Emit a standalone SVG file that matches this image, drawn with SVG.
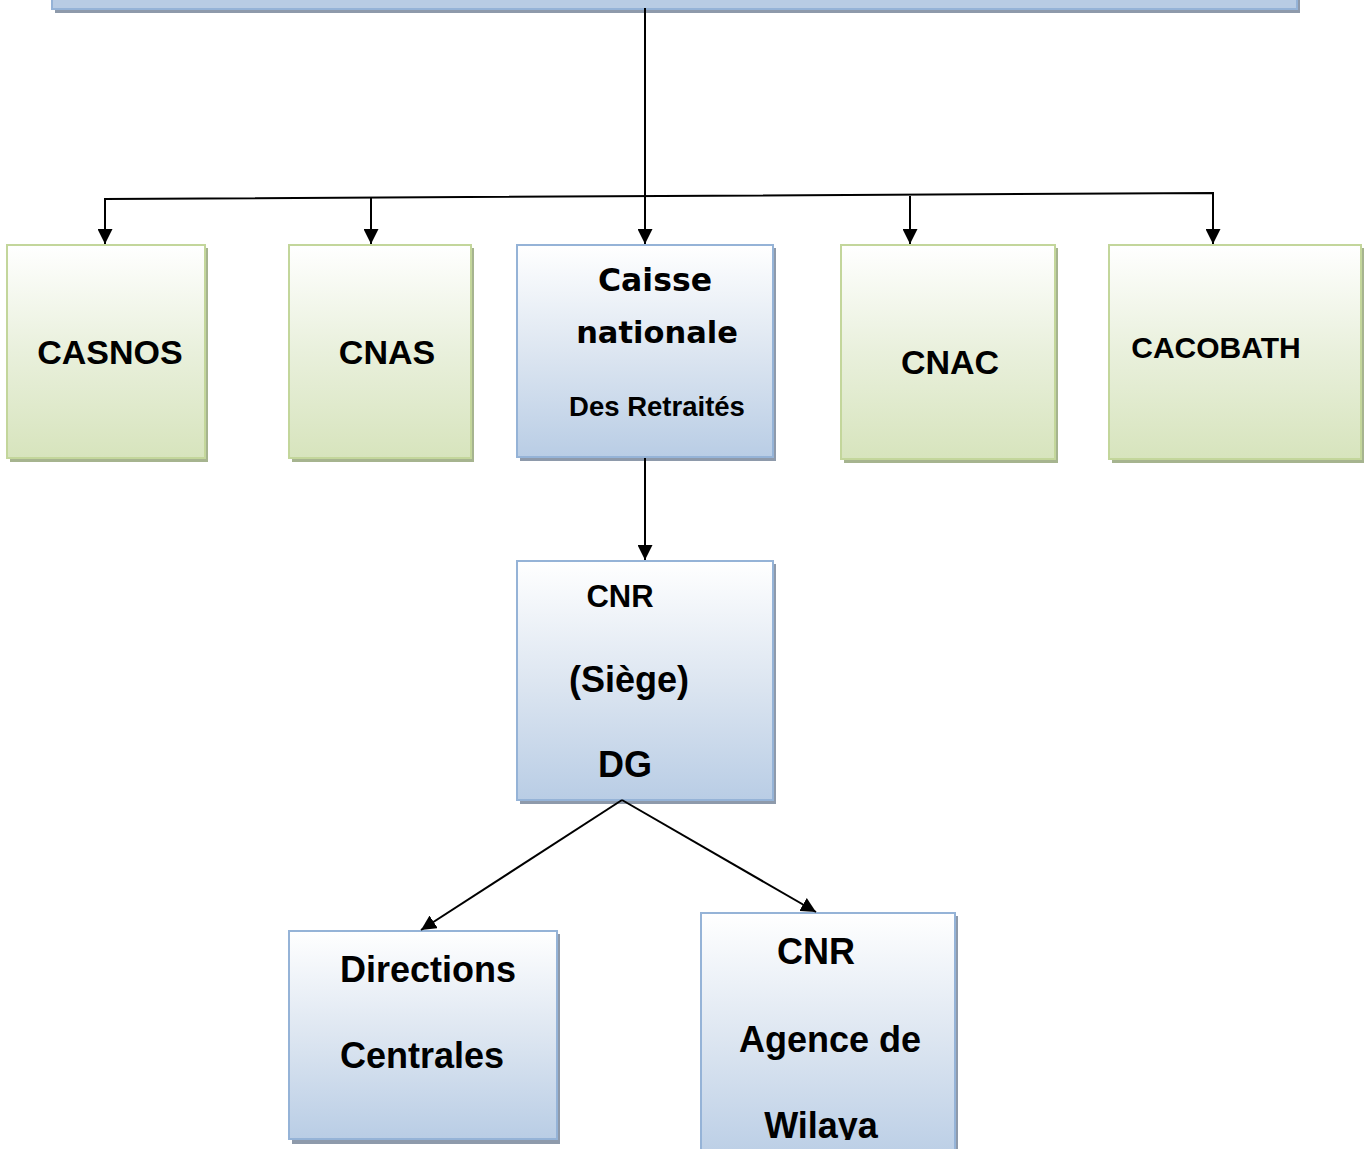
<svg xmlns="http://www.w3.org/2000/svg" width="1370" height="1149" viewBox="0 0 1370 1149">
<defs>
<linearGradient id="gGreen" x1="0" y1="0" x2="0" y2="1">
<stop offset="0" stop-color="#ffffff"/><stop offset="0.5" stop-color="#e9f0dc"/><stop offset="1" stop-color="#d7e4bd"/>
</linearGradient>
<linearGradient id="gBlue" x1="0" y1="0" x2="0" y2="1">
<stop offset="0" stop-color="#ffffff"/><stop offset="0.5" stop-color="#dde6f1"/><stop offset="1" stop-color="#b9cde5"/>
</linearGradient>
<marker id="arr" viewBox="0 0 10 10" refX="10" refY="5" markerWidth="15" markerHeight="15" markerUnits="userSpaceOnUse" orient="auto">
<path d="M0,0 L10,5 L0,10 z" fill="#000"/>
</marker>
<clipPath id="clipW"><rect x="700" y="913" width="260" height="227"/></clipPath>
</defs>
<style>
.gbox{fill:url(#gGreen);stroke:#c3d69b;stroke-width:2}
.gsh{fill:#a6b48f}
.bbox{fill:url(#gBlue);stroke:#95b3d7;stroke-width:2}
.bsh{fill:#8e9aab}
.t{font-family:"Liberation Sans",Arial,sans-serif;font-weight:bold;fill:#000;text-anchor:middle}
.tb{font-family:"DejaVu Sans","Liberation Sans",sans-serif;font-weight:bold;fill:#000;text-anchor:middle}
.ln{stroke:#000;stroke-width:2;fill:none}
</style>
<rect width="1370" height="1149" fill="#ffffff"/>

<g id="top">
<rect class="bsh" x="55" y="-10" width="1245" height="23"/>
<rect x="52" y="-12" width="1245" height="21" fill="#b8cce4" stroke="#95b3d7" stroke-width="2"/>
</g>

<g id="casnos">
<rect class="gsh" x="10" y="248" width="198" height="214"/>
<rect class="gbox" x="7" y="245" width="198" height="213"/>
<text class="t" x="110" y="364" font-size="34">CASNOS</text>
</g>

<g id="cnas">
<rect class="gsh" x="292" y="248" width="182" height="214"/>
<rect class="gbox" x="289" y="245" width="182" height="213"/>
<text class="t" x="387" y="364" font-size="34">CNAS</text>
</g>

<g id="cnr-national">
<rect class="bsh" x="520" y="248" width="256" height="213"/>
<rect class="bbox" x="517" y="245" width="256" height="212"/>
<text class="tb" x="655" y="291" font-size="31.5">Caisse</text>
<text class="tb" x="657" y="343" font-size="30.5">nationale</text>
<text class="t" x="657" y="416" font-size="27.5">Des Retraités</text>
</g>

<g id="cnac">
<rect class="gsh" x="844" y="248" width="214" height="215"/>
<rect class="gbox" x="841" y="245" width="214" height="214"/>
<text class="t" x="950" y="374" font-size="34">CNAC</text>
</g>

<g id="cacobath">
<rect class="gsh" x="1112" y="248" width="252" height="215"/>
<rect class="gbox" x="1109" y="245" width="252" height="214"/>
<text class="t" x="1216" y="358" font-size="30">CACOBATH</text>
</g>

<g id="cnr-siege">
<rect class="bsh" x="520" y="564" width="256" height="240"/>
<rect class="bbox" x="517" y="561" width="256" height="239"/>
<text class="t" x="620" y="607" font-size="31">CNR</text>
<text class="t" x="629" y="692" font-size="36">(Siège)</text>
<text class="t" x="625" y="777" font-size="36">DG</text>
</g>

<g id="directions">
<rect class="bsh" x="292" y="934" width="268" height="210"/>
<rect class="bbox" x="289" y="931" width="268" height="208"/>
<text class="t" x="428" y="982" font-size="36">Directions</text>
<text class="t" x="422" y="1068" font-size="36">Centrales</text>
</g>

<g id="cnr-agence">
<rect class="bsh" x="704" y="916" width="254" height="240"/>
<rect class="bbox" x="701" y="913" width="254" height="250"/>
<g clip-path="url(#clipW)">
<text class="t" x="816" y="964" font-size="36">CNR</text>
<text class="t" x="830" y="1052" font-size="36">Agence de</text>
<text class="t" x="821" y="1138" font-size="36">Wilaya</text>
</g>
</g>

<g id="connectors">
<line class="ln" x1="645" y1="8" x2="645" y2="244" marker-end="url(#arr)"/>
<polyline class="ln" points="105,244 105,199 1213,193 1213,244" marker-end="url(#arr)"/>
<line class="ln" x1="105" y1="230" x2="105" y2="244" marker-end="url(#arr)"/>
<line class="ln" x1="371" y1="197" x2="371" y2="244" marker-end="url(#arr)"/>
<line class="ln" x1="910" y1="196" x2="910" y2="244" marker-end="url(#arr)"/>
<line class="ln" x1="645" y1="458" x2="645" y2="560" marker-end="url(#arr)"/>
<line class="ln" x1="622" y1="800" x2="421" y2="930" marker-end="url(#arr)"/>
<line class="ln" x1="622" y1="800" x2="816" y2="912" marker-end="url(#arr)"/>
</g>
</svg>
